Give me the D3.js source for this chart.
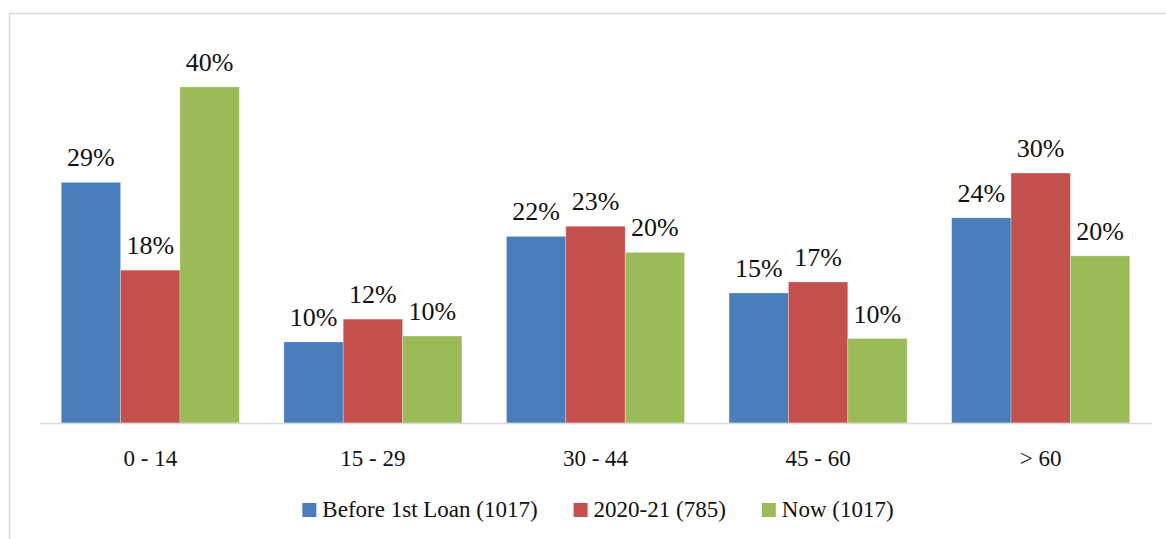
<!DOCTYPE html>
<html>
<head>
<meta charset="utf-8">
<script src="https://cdn.jsdelivr.net/npm/d3@7"></script>
<style>
  body { margin: 0; background: #fff; }
  svg { display: block; font-family: "Liberation Serif", "DejaVu Serif", serif; }
</style>
</head>
<body>
<svg id="svg"></svg>
<script>
var width = 1166, height = 539;

// data
var categories = ["0 - 14", "15 - 29", "30 - 44", "45 - 60", "> 60"];
var seriesNames = ["Before 1st Loan (1017)", "2020-21 (785)", "Now (1017)"];
var seriesColors = ["#4A7EBB", "#C4504D", "#9BBB59"];
var beforeLoan = [28.5, 9.6, 22.1, 15.4, 24.3];
var season2021 = [18.1, 12.3, 23.3, 16.7, 29.6];
var now = [39.8, 10.3, 20.2, 10.0, 19.8];
var labelsBefore = ["29%", "10%", "22%", "15%", "24%"];
var labels2021 = ["18%", "12%", "23%", "17%", "30%"];
var labelsNow = ["40%", "10%", "20%", "10%", "20%"];

var series = [
    { name: seriesNames[0], color: seriesColors[0], values: beforeLoan, labels: labelsBefore },
    { name: seriesNames[1], color: seriesColors[1], values: season2021, labels: labels2021 },
    { name: seriesNames[2], color: seriesColors[2], values: now, labels: labelsNow }
];

var svg = d3.select("#svg").attr("width", width).attr("height", height);

// outer frame (runs off the right and bottom edge)
svg.append("rect")
    .attr("x", 9.5).attr("y", 13.5)
    .attr("width", width + 20).attr("height", height + 20)
    .attr("fill", "none")
    .attr("stroke", "#d9d9d9")
    .attr("stroke-width", 1.5);

var plotLeft = 39, plotRight = 1152, plotTop = 43, baseline = 423;

var x0 = d3.scaleBand().domain(categories).range([plotLeft, plotRight]);
var gap = x0.bandwidth() * 0.1;
var x1 = d3.scaleBand().domain(d3.range(series.length))
    .range([gap, x0.bandwidth() - gap]);
var y = d3.scaleLinear().domain([0, 45]).range([baseline, plotTop]);

var groups = svg.append("g").selectAll("g")
    .data(categories)
    .join("g")
    .attr("transform", function(d){ return "translate(" + x0(d) + ",0)"; });

groups.each(function(cat, ci){
    var g = d3.select(this);
    series.forEach(function(s, si){
        g.append("rect")
            .attr("x", x1(si))
            .attr("y", y(s.values[ci]))
            .attr("width", x1.bandwidth())
            .attr("height", y(0) - y(s.values[ci]))
            .attr("fill", s.color)
            .attr("stroke", "#ffffff")
            .attr("stroke-opacity", 0.35)
            .attr("stroke-width", 0.8);
        g.append("text")
            .attr("x", x1(si) + x1.bandwidth() / 2)
            .attr("y", y(s.values[ci]) - 16)
            .attr("text-anchor", "middle")
            .attr("font-size", 26)
            .attr("fill", "#111")
            .text(s.labels[ci]);
    });
});

// category axis
var xAxis = svg.append("g")
    .attr("transform", "translate(0," + baseline + ")")
    .call(d3.axisBottom(x0).tickSize(0).tickPadding(28));
xAxis.select(".domain")
    .attr("stroke", "#d9d9d9")
    .attr("stroke-width", 1.5);
xAxis.selectAll("text")
    .attr("font-family", "Liberation Serif, DejaVu Serif, serif")
    .attr("font-size", 23)
    .attr("fill", "#111")
    .attr("dy", 0)
    .attr("y", 43);

// legend
var legend = svg.append("g");
var items = legend.selectAll("g")
    .data(series)
    .join("g");
items.append("rect")
    .attr("width", 14).attr("height", 14)
    .attr("y", 503)
    .attr("fill", function(d){ return d.color; });
items.append("text")
    .attr("x", 20)
    .attr("y", 517)
    .attr("font-size", 23)
    .attr("fill", "#111")
    .text(function(d){ return d.name; });

var pos = 0;
items.each(function(){
    var w = this.querySelector("text").getComputedTextLength();
    d3.select(this).attr("transform", "translate(" + pos + ",0)");
    pos += 20 + w + 36;
});
var total = pos - 36;
legend.attr("transform", "translate(" + (598 - total / 2) + ",0)");
</script>
</body>
</html>
